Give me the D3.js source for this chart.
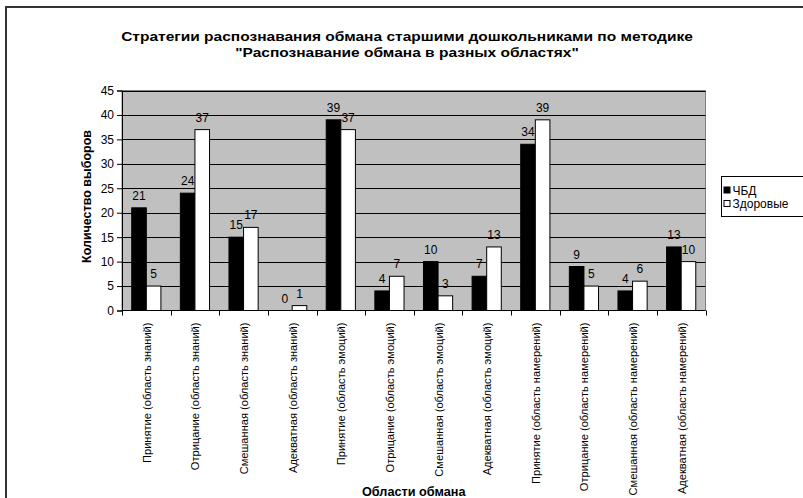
<!DOCTYPE html>
<html>
<head>
<meta charset="utf-8">
<script src="https://cdn.jsdelivr.net/npm/d3@7"></script>
<style>
  html, body { margin: 0; padding: 0; background: #fff; }
  svg { display: block; font-family: "Liberation Sans", Arial, sans-serif; }
</style>
</head>
<body>
<svg id="chart" width="803" height="498"></svg>
<script>
// Categories: strategy (area of deception)
const categories = [
  "Принятие (область знаний)",
  "Отрицание (область знаний)",
  "Смешанная (область знаний)",
  "Адекватная (область знаний)",
  "Принятие (область эмоций)",
  "Отрицание (область эмоций)",
  "Смешанная (область эмоций)",
  "Адекватная (область эмоций)",
  "Принятие (область намерений)",
  "Отрицание (область намерений)",
  "Смешанная (область намерений)",
  "Адекватная (область намерений)"
];
const seriesNames = ["ЧБД", "Здоровые"];
const valuesCHBD = [21, 24, 15, 0, 39, 4, 10, 7, 34, 9, 4, 13];
const valuesHealthy = [5, 37, 17, 1, 37, 7, 3, 13, 39, 5, 6, 10];
const yTicks = [0, 5, 10, 15, 20, 25, 30, 35, 40, 45];

const titleLines = [
  "Стратегии распознавания обмана старшими дошкольниками по методике",
  "\"Распознавание обмана в разных областях\""
];
const yTitle = "Количество выборов";
const xTitle = "Области обмана";

const svg = d3.select("#chart");
const fills = ["#000000", "#ffffff"];

// chart frame (only top and left edges are inside the view)
svg.append("path")
  .attr("d", "M6,498 L6,7 L803,7")
  .attr("fill", "none")
  .attr("stroke", "#333")
  .attr("stroke-width", 2);

const plot = { left: 122, right: 705.5, top: 90.5, bottom: 310.5 };

const x0 = d3.scaleBand().domain(categories).range([plot.left, plot.right]).paddingInner(0).paddingOuter(0);
const step = x0.step();
const gap = step * 0.4;
const x1 = d3.scaleBand().domain(seriesNames).range([gap / 2, step - gap / 2]);
const y = d3.scaleLinear().domain([0, 45]).range([plot.bottom, plot.top]);

// plot background
svg.append("rect")
  .attr("x", plot.left).attr("y", plot.top)
  .attr("width", plot.right - plot.left).attr("height", plot.bottom - plot.top)
  .attr("fill", "#c0c0c0")
  .attr("stroke", "#808080").attr("stroke-width", 1);

// gridlines
svg.append("g").selectAll("line")
  .data(yTicks.filter(d => d > 0))
  .join("line")
  .attr("x1", plot.left).attr("x2", plot.right)
  .attr("y1", d => Math.round(y(d)) + 0.5).attr("y2", d => Math.round(y(d)) + 0.5)
  .attr("stroke", "#000").attr("stroke-width", 1);

// bars
const rows = categories.map((c, i) => ({ cat: c, vals: [valuesCHBD[i], valuesHealthy[i]] }));
const groups = svg.append("g").selectAll("g")
  .data(rows)
  .join("g")
  .attr("transform", d => `translate(${x0(d.cat)},0)`);

groups.selectAll("rect")
  .data(d => d.vals.map((v, j) => ({ name: seriesNames[j], v, j })))
  .join("rect")
  .attr("x", d => x1(d.name))
  .attr("y", d => y(d.v))
  .attr("width", x1.bandwidth())
  .attr("height", d => y(0) - y(d.v))
  .attr("fill", d => fills[d.j])
  .attr("stroke", "#000").attr("stroke-width", 1);

// value labels
groups.selectAll("text")
  .data(d => d.vals.map((v, j) => ({ name: seriesNames[j], v, j })))
  .join("text")
  .attr("x", d => x1(d.name) + x1.bandwidth() / 2)
  .attr("y", d => y(d.v) - 8)
  .attr("text-anchor", "middle")
  .attr("font-size", 12)
  .attr("fill", "#000")
  .text(d => d.v);

// y axis
const yAxis = d3.axisLeft(y).tickValues(yTicks).tickSize(5).tickPadding(3);
const gy = svg.append("g").attr("transform", `translate(${plot.left},0)`).call(yAxis);
gy.select(".domain").attr("stroke", "#000");
gy.selectAll(".tick line").attr("stroke", "#000");
gy.selectAll("text").attr("font-size", 12).attr("fill", "#000").attr("font-family", "Liberation Sans, Arial, sans-serif");

// x axis: ticks on category boundaries
const boundaries = categories.map(c => x0(c)).concat([plot.right]);
svg.append("line")
  .attr("x1", plot.left).attr("x2", plot.right)
  .attr("y1", plot.bottom).attr("y2", plot.bottom)
  .attr("stroke", "#000");
svg.append("g").selectAll("line")
  .data(boundaries)
  .join("line")
  .attr("x1", d => Math.round(d) + 0.5).attr("x2", d => Math.round(d) + 0.5)
  .attr("y1", plot.bottom).attr("y2", plot.bottom + 5)
  .attr("stroke", "#000");

// x category labels, rotated
svg.append("g").selectAll("text")
  .data(categories)
  .join("text")
  .attr("transform", d => `translate(${x0(d) + step / 2 + 4.5},${plot.bottom + 12}) rotate(-90)`)
  .attr("text-anchor", "end")
  .attr("font-size", 11.1)
  .attr("fill", "#000")
  .text(d => d);

// two-line title, slightly widened
const titleG = svg.append("g").attr("transform", "translate(407,0) scale(1.15,1)");
titleG.selectAll("text")
  .data(titleLines)
  .join("text")
  .attr("x", 0)
  .attr("y", (d, i) => 41.5 + i * 15.5)
  .attr("text-anchor", "middle")
  .attr("font-size", 13.5)
  .attr("font-weight", "bold")
  .text(d => d);

svg.append("text")
  .attr("transform", `translate(90.5,${(plot.top + plot.bottom) / 2 - 4}) rotate(-90)`)
  .attr("text-anchor", "middle")
  .attr("font-size", 12.5)
  .attr("font-weight", "bold")
  .text(yTitle);

svg.append("text")
  .attr("x", (plot.left + plot.right) / 2)
  .attr("y", 495.5)
  .attr("text-anchor", "middle")
  .attr("font-size", 12.7)
  .attr("font-weight", "bold")
  .text(xTitle);

// legend
const legend = svg.append("g").attr("transform", "translate(721.5,176.5)");
legend.append("rect")
  .attr("width", 100).attr("height", 40)
  .attr("fill", "#fff").attr("stroke", "#000");
const li = legend.selectAll("g.item")
  .data(seriesNames)
  .join("g")
  .attr("class", "item")
  .attr("transform", (d, i) => `translate(2,${14 + i * 13.5})`);
li.append("rect")
  .attr("x", 0.5).attr("y", -3.5)
  .attr("width", 6).attr("height", 6)
  .attr("fill", (d, i) => fills[i]).attr("stroke", "#000");
li.append("text")
  .attr("x", 9).attr("y", 4)
  .attr("font-size", 12)
  .text(d => d);
</script>
</body>
</html>
